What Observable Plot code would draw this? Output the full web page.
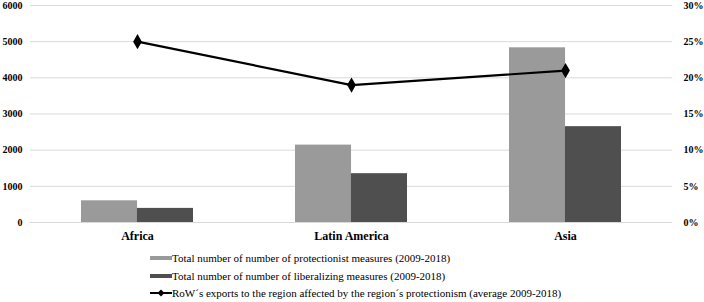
<!DOCTYPE html>
<html>
<head>
<meta charset="utf-8">
<script src="https://cdn.jsdelivr.net/npm/d3@7"></script>
<script src="https://cdn.jsdelivr.net/npm/@observablehq/plot@0.6"></script>
<style>
  body { margin: 0; background: #fff; font-family: "Times New Roman", "Liberation Serif", Tinos, serif; }
  #chart svg { display: block; }
  .legend { padding-left: 150px; margin-top: 4.5px; font-size: 11px; color: #000; font-family: "Times New Roman", "Liberation Serif", Tinos, serif; }
  .legend .item { display: flex; align-items: center; height: 17.5px; }
  .legend .sw { width: 22px; height: 4px; }
</style>
</head>
<body>
<div id="chart"></div>
<script>
const regions = ["Africa", "Latin America", "Asia"];
const protectionist = [600, 2140, 4830];
const liberalizing = [390, 1350, 2650];
const rowShare = [0.25, 0.19, 0.21];
const countTicks = [0, 1000, 2000, 3000, 4000, 5000, 6000];
const pctTicks = [0, 0.05, 0.10, 0.15, 0.20, 0.25, 0.30];
const seriesNames = [
  "Total number of number of protectionist measures (2009-2018)",
  "Total number of number of liberalizing measures (2009-2018)",
  "RoW\u00b4s exports to the region affected by the region\u00b4s protectionism (average 2009-2018)"
];

const colProt = "#9a9a9a", colLib = "#4f4f4f";
const countMax = countTicks[countTicks.length - 1];
const pctMax = pctTicks[pctTicks.length - 1];
const toCount = p => p / pctMax * countMax;

const rows = regions.map((r, i) => ({region: r, prot: protectionist[i], lib: liberalizing[i], share: rowShare[i]}));

const W = 704, H = 245, mL = 30, mR = 32;
const pIn = 0.477, pOut = 0.2385;
const step = (W - mL - mR) / (regions.length - pIn + 2 * pOut);
const bw = step * (1 - pIn);

const font = "'Times New Roman', 'Liberation Serif', Tinos, serif";

const chart = Plot.plot({
  width: W, height: H,
  marginLeft: mL, marginRight: mR, marginTop: 5, marginBottom: 23,
  style: {fontFamily: font, color: "#000", background: "#fff"},
  x: {domain: regions, paddingInner: pIn, paddingOuter: pOut, align: 0.5, label: null},
  y: {domain: [0, countMax], label: null},
  marks: [
    Plot.ruleY(countTicks, {stroke: "#d9d9d9", strokeWidth: 1}),
    Plot.barY(rows, {x: "region", y: "prot", fill: colProt, insetRight: bw / 2, insetLeft: 0}),
    Plot.barY(rows, {x: "region", y: "lib", fill: colLib, insetLeft: bw / 2, insetRight: 0}),
    Plot.lineY(rows, {x: "region", y: d => toCount(d.share), stroke: "#000", strokeWidth: 2.2}),
    Plot.dot(rows, {x: "region", y: d => toCount(d.share), symbol: "diamond", fill: "#000", r: 4.6}),
    Plot.axisY(countTicks, {anchor: "left", tickSize: 0, tickPadding: 8, fontWeight: "bold", fontSize: 10, fontFamily: font, label: null, tickFormat: d => String(d)}),
    Plot.axisY(countTicks, {anchor: "right", tickSize: 0, tickPadding: 11, fontWeight: "bold", fontSize: 10, fontFamily: font, label: null,
      tickFormat: d => Math.round(d / countMax * pctMax * 100) + "%"}),
    Plot.axisX({tickSize: 0, tickPadding: 9, fontWeight: "bold", fontSize: 12, fontFamily: font, label: null})
  ]
});
document.getElementById("chart").appendChild(chart);

const legend = document.createElement("div");
legend.className = "legend";
legend.innerHTML =
  `<div class="item"><span class="sw" style="background:${colProt}"></span><span>${seriesNames[0]}</span></div>` +
  `<div class="item"><span class="sw" style="background:${colLib}"></span><span>${seriesNames[1]}</span></div>` +
  `<div class="item"><svg width="22" height="10"><line x1="0" y1="5" x2="22" y2="5" stroke="#000" stroke-width="2"/><path d="M11,1.5 L14.5,5 L11,8.5 L7.5,5 Z" fill="#000"/></svg><span>${seriesNames[2]}</span></div>`;
document.getElementById("chart").appendChild(legend);
</script>
</body>
</html>
